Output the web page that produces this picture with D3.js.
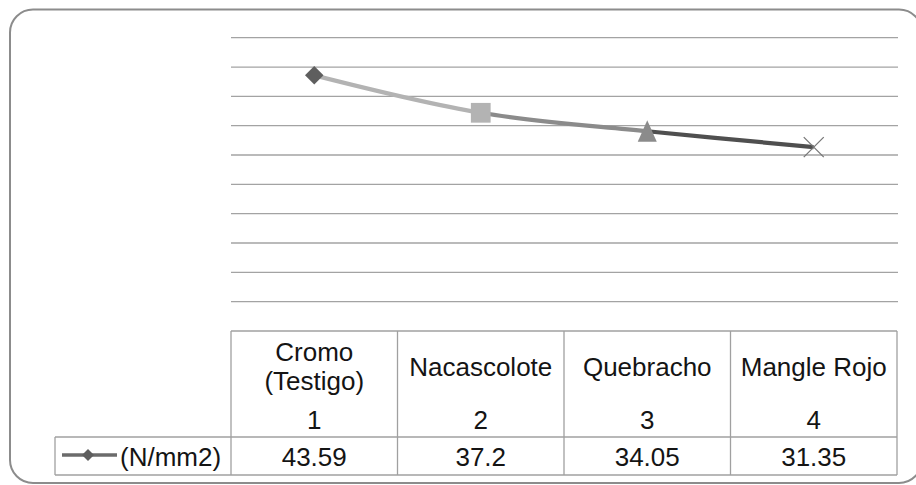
<!DOCTYPE html>
<html>
<head>
<meta charset="utf-8">
<script src="https://cdn.jsdelivr.net/npm/d3@7"></script>
<style>
  body { margin: 0; background: #fff; }
  svg { display: block; }
  text { font-family: "Liberation Sans", Arial, Helvetica, sans-serif; fill: #141414; }
</style>
</head>
<body>
<svg id="chart" width="916" height="485"></svg>
<script>
// ---- data ----
const categories = ["Cromo (Testigo)", "Nacascolote", "Quebracho", "Mangle Rojo"];
const categoryIndex = ["1", "2", "3", "4"];
const values = [43.59, 37.2, 34.05, 31.35];
const seriesName = "(N/mm2)";
const yTicks = [5, 10, 15, 20, 25, 30, 35, 40, 45, 50];

// ---- styling ----
const pointColors = ["#5e5e5e", "#b3b3b3", "#8b8b8b", "#4f4f4f"];
const markerTypes = ["diamond", "square", "triangle", "x"];
const gridColor = "#a3a3a3";
const tableColor = "#a0a0a0";
const fontSize = 26;

const svg = d3.select("#chart");
const W = 916, H = 485;

// outer rounded frame
svg.append("rect")
  .attr("x", 10).attr("y", 9.5)
  .attr("width", 912).attr("height", 473.5)
  .attr("rx", 23).attr("ry", 23)
  .attr("fill", "#fff")
  .attr("stroke", "#8c8c8c")
  .attr("stroke-width", 2);

// scales
const x = d3.scaleBand().domain(categories).range([231, 897]).padding(0);
const y = d3.scaleLinear().domain([0, 50]).range([331, 37.7]);
const cx = c => x(c) + x.bandwidth() / 2;

// horizontal gridlines
svg.append("g").selectAll("line")
  .data(yTicks)
  .join("line")
  .attr("x1", 231).attr("x2", 898)
  .attr("y1", d => y(d)).attr("y2", d => y(d))
  .attr("stroke", gridColor)
  .attr("stroke-width", 1.3);

// ---- data table under the plot ----
const headerBottom = 437;
const tableBottom = 475;
const legendLeft = 55;
const table = svg.append("g").attr("stroke", tableColor).attr("stroke-width", 1.3);

table.append("line").attr("x1", x.range()[0]).attr("x2", x.range()[1])
  .attr("y1", y(0)).attr("y2", y(0));
table.append("line").attr("x1", legendLeft).attr("x2", x.range()[1])
  .attr("y1", headerBottom).attr("y2", headerBottom);
table.append("line").attr("x1", legendLeft).attr("x2", x.range()[1])
  .attr("y1", tableBottom).attr("y2", tableBottom);
table.append("line").attr("x1", legendLeft).attr("x2", legendLeft)
  .attr("y1", headerBottom).attr("y2", tableBottom);
table.selectAll("line.col")
  .data(categories.map(c => x(c)).concat([x.range()[1]]))
  .join("line")
  .attr("class", "col")
  .attr("x1", d => d).attr("x2", d => d)
  .attr("y1", y(0)).attr("y2", tableBottom);

// category headers (wrapped to the column width)
const headers = svg.append("g").attr("font-size", fontSize).attr("text-anchor", "middle");
categories.forEach((c, i) => {
  const probe = headers.append("text").text(c);
  const fits = probe.node().getComputedTextLength() <= x.bandwidth() - 8;
  probe.remove();
  const lines = fits ? [c] : c.split(" ");
  const lineGap = 29;
  const mid = 375.5;
  const first = mid - (lines.length - 1) * lineGap / 2;
  lines.forEach((ln, k) => {
    headers.append("text")
      .attr("x", cx(c))
      .attr("y", first + k * lineGap)
      .text(ln);
  });
  headers.append("text")
    .attr("x", cx(c))
    .attr("y", 429)
    .text(categoryIndex[i]);
});

// values row
svg.append("g").attr("font-size", fontSize).attr("text-anchor", "middle")
  .selectAll("text")
  .data(values)
  .join("text")
  .attr("x", (d, i) => cx(categories[i]))
  .attr("y", 466)
  .text(d => String(d));

// legend key inside the values row
const legendY = (headerBottom + tableBottom) / 2 - 1;
svg.append("line")
  .attr("x1", 62).attr("x2", 117)
  .attr("y1", legendY).attr("y2", legendY)
  .attr("stroke", "#6b6b6b").attr("stroke-width", 3.5);
svg.append("path")
  .attr("d", d3.symbol(d3.symbolSquare, 72)())
  .attr("transform", `translate(88,${legendY}) rotate(45)`)
  .attr("fill", "#5e5e5e");
svg.append("text")
  .attr("x", 120).attr("y", 466)
  .attr("font-size", fontSize)
  .text(seriesName);

// ---- smoothed series line, coloured by segment ----
const pts = categories.map((c, i) => [cx(c), y(values[i])]);
const linePath = d3.line().curve(d3.curveCatmullRom.alpha(0.5))(pts);
const defs = svg.append("defs");
for (let i = 1; i < pts.length; i++) {
  defs.append("clipPath").attr("id", "seg" + i)
    .append("rect")
    .attr("x", pts[i - 1][0]).attr("y", 0)
    .attr("width", pts[i][0] - pts[i - 1][0]).attr("height", H);
  svg.append("path")
    .attr("d", linePath)
    .attr("clip-path", `url(#seg${i})`)
    .attr("fill", "none")
    .attr("stroke", pointColors[i])
    .attr("stroke-width", 4.2)
    .attr("stroke-linecap", "butt");
}

// markers
const markerG = svg.append("g");
pts.forEach((p, i) => {
  const type = markerTypes[i];
  const col = pointColors[i];
  const g = markerG.append("g").attr("transform", `translate(${p[0]},${p[1]})`);
  if (type === "diamond") {
    g.append("path").attr("d", d3.symbol(d3.symbolSquare, 170)())
      .attr("transform", "rotate(45)").attr("fill", col);
  } else if (type === "square") {
    g.append("path").attr("d", d3.symbol(d3.symbolSquare, 390)()).attr("fill", col);
  } else if (type === "triangle") {
    g.append("path").attr("d", "M0,-11L9.5,10.5L-9.5,10.5Z").attr("fill", col);
  } else {
    g.append("path").attr("d", "M-10,-10L10,10M-10,10L10,-10")
      .attr("stroke", "#777").attr("stroke-width", 1.3).attr("fill", "none");
  }
});
</script>
</body>
</html>
